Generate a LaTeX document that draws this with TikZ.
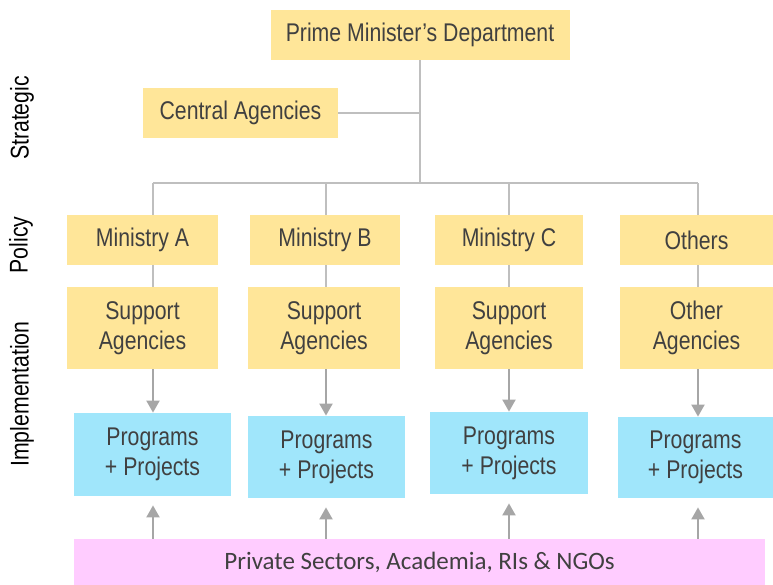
\documentclass[tikz,border=0pt]{standalone}
\usepackage{fontspec}
\setmainfont[FakeStretch=0.83]{Liberation Sans}
\newfontfamily\privfont{Carlito}
\usetikzlibrary{arrows.meta}
\definecolor{Strategy}{HTML}{FFE699}
\definecolor{Delivery}{HTML}{A0E6FB}
\definecolor{Partners}{HTML}{FFCCFF}
\definecolor{Wire}{HTML}{BFBFBF}
\definecolor{Pointer}{HTML}{A6A6A6}
\definecolor{Ink}{HTML}{404040}
\newcommand{\OrgFont}{\fontsize{12.8}{15}\selectfont}

\begin{document}
\begin{tikzpicture}[x=0.5pt, y=-0.5pt,
                    unit/.style = { fill=Strategy, inner sep=0pt, align=center, text=Ink, font=\OrgFont },
                    ministry/.style = { unit, minimum height=25pt },
                    agency/.style = { unit, minimum height=41pt },
                    project/.style = { unit, fill=Delivery },
                    partner/.style = { unit, fill=Partners, font=\privfont\fontsize{12.5}{15}\selectfont },
                    tier/.style = { rotate=90, inner sep=0pt, font=\OrgFont },
                    wire/.style = { color=Wire, line width=1pt },
                    feed/.style = { -{Triangle[width=6.5pt,length=6pt]}, color=Pointer, line width=1pt }]
  \useasboundingbox (0,0) rectangle (773,585);

  \node (strategic) at(22,118)   [tier] {Strategic};
  \node (policy) at(21,245)   [tier] {Policy};
  \node (implementation) at(22,394)   [tier] {Implementation};

  \node (pm) at(420,35)   [ministry, minimum width=149.5pt] {Prime Minister's Department};
  \node (central) at(240.5,113)   [ministry, minimum width=97.5pt] {Central Agencies};

  \node (minA) at(142.5,240)   [ministry, minimum width=75.5pt] {Ministry A};
  \node (minB) at(325,240)   [ministry, minimum width=75pt] {Ministry B};
  \node (minC) at(509,240)   [ministry, minimum width=74pt] {Ministry C};
  \node (minD) at(696.5,240)   [ministry, minimum width=76.5pt] {Others};

  \node (supA) at(142.5,328)   [agency, minimum width=75.5pt] {Support\\Agencies};
  \node (supB) at(324,328)   [agency, minimum width=76pt] {Support\\Agencies};
  \node (supC) at(509,328)   [agency, minimum width=74pt] {Support\\Agencies};
  \node (supD) at(696.5,328)   [agency, minimum width=76.5pt] {Other\\Agencies};

  \node (progA) at(152.5,454.5)   [project, minimum width=78.5pt, minimum height=41.5pt] {Programs\\+ Projects};
  \node (progB) at(326.5,457)   [project, minimum width=78.5pt, minimum height=41pt] {Programs\\+ Projects};
  \node (progC) at(509,453)   [project, minimum width=79pt, minimum height=41pt] {Programs\\+ Projects};
  \node (progD) at(695.5,457.5)   [project, minimum width=77.5pt, minimum height=40.5pt] {Programs\\+ Projects};

  \node (priv) at(419.5,562)   [partner, minimum width=345.5pt, minimum height=23pt] {Private Sectors, Academia, RIs \& NGOs};

  \coordinate (hub) at (420,183);
  \coordinate (busA) at (153,183);
  \coordinate (busB) at (326,183);
  \coordinate (busC) at (509,183);
  \coordinate (busD) at (698,183);

  \draw [wire] (pm.south) -- (hub);
  \draw [wire] (central.east) -- (central.east -| hub);
  \draw [wire] (busA) -- (busD);

  \draw [wire] (busA) -- (busA |- minA.north);
  \draw [wire] (busB) -- (busB |- minB.north);
  \draw [wire] (busC) -- (busC |- minC.north);
  \draw [wire] (busD) -- (busD |- minD.north);

  \draw [wire] (busA |- minA.south) -- (busA |- supA.north);
  \draw [wire] (busB |- minB.south) -- (busB |- supB.north);
  \draw [wire] (busC |- minC.south) -- (busC |- supC.north);
  \draw [wire] (busD |- minD.south) -- (busD |- supD.north);

  \draw [feed] (busA |- supA.south) -- (busA |- progA.north);
  \draw [feed] (busB |- supB.south) -- (busB |- progB.north);
  \draw [feed] (busC |- supC.south) -- (busC |- progC.north);
  \draw [feed] (busD |- supD.south) -- (busD |- progD.north);

  \draw [feed, shorten >=4.5pt] (busA |- priv.north) -- (busA |- progA.south);
  \draw [feed, shorten >=4.5pt] (busB |- priv.north) -- (busB |- progB.south);
  \draw [feed, shorten >=4.5pt] (busC |- priv.north) -- (busC |- progC.south);
  \draw [feed, shorten >=4.5pt] (busD |- priv.north) -- (busD |- progD.south);
\end{tikzpicture}
\end{document}
